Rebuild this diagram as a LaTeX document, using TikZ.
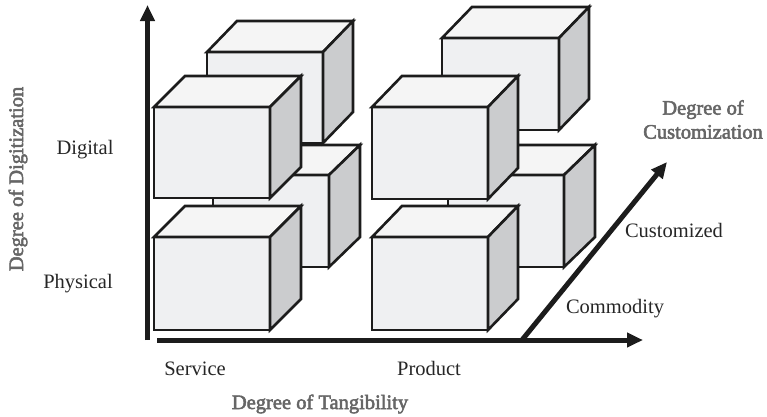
\documentclass[tikz,border=0pt]{standalone}
\usepackage{fontspec}
\setmainfont{Liberation Serif}
\newfontfamily\titlefont[FakeBold=2.6]{Liberation Serif}
\usetikzlibrary{arrows.meta}

\definecolor{faceFront}{HTML}{EFF0F2}
\definecolor{faceTop}{HTML}{F5F5F5}
\definecolor{faceSide}{HTML}{CBCCCE}
\definecolor{edgeInk}{HTML}{1C1C1C}
\definecolor{titleGray}{HTML}{666666}
\definecolor{labelInk}{HTML}{262626}

% a box seen from the front: front face (x1,y1)-(x2,y2), depth offset (dx,dy)
\newcommand{\drawbox}[6]{%
  \filldraw[boxedge, fill=faceFront] (#1,#2) rectangle (#3,#4);
  \filldraw[boxedge, fill=faceTop] (#1,#2) -- ({#1+#5},{#2-#6}) -- ({#3+#5},{#2-#6}) -- (#3,#2) -- cycle;
  \filldraw[boxedge, fill=faceSide] (#3,#2) -- ({#3+#5},{#2-#6}) -- ({#3+#5},{#4-#6}) -- (#3,#4) -- cycle;
}

\tikzset{
  boxedge/.style={draw=edgeInk, line width=2.6pt, line join=miter},
  axisline/.style={draw=edgeInk, line width=5pt, -{Triangle[length=16pt,width=14pt]}},
  tick/.style={font=\fontsize{20.5}{24}\selectfont, text=labelInk, inner sep=0pt, anchor=base},
  axistitle/.style={font=\titlefont\fontsize{20.5}{24}\selectfont, text=titleGray, inner sep=0pt},
}

\begin{document}
\begin{tikzpicture}[x=1pt, y=-1pt]
  \path[use as bounding box] (0,0) rectangle (767,416);

  % axes
  \coordinate (vBase) at (147.5,340);
  \coordinate (vTip) at (147.5,5);
  \coordinate (hBase) at (157,340);
  \coordinate (hTip) at (643,340);
  \coordinate (dBase) at (522,340);
  \coordinate (dTip) at (667,162);
  \draw[axisline] (vBase) -- (vTip);
  \draw[axisline] (hBase) -- (hTip);
  \draw[axisline] (dBase) -- (dTip);

  % service column, rear row
  \drawbox{213}{175}{329}{267}{31}{30}
  \drawbox{207}{52}{323}{143}{30}{31}
  % service column, front row
  \drawbox{154}{237}{270}{330}{31}{31}
  \drawbox{154}{107}{270}{198}{31}{31}

  % product column, rear row
  \drawbox{448}{175}{564}{267}{31}{30}
  \drawbox{442}{38}{559}{130}{30}{31}
  % product column, front row
  \drawbox{372}{237}{488}{330}{30}{31}
  \drawbox{372}{107}{488}{199}{30}{31}

  % level labels
  \node[tick] (digital) at (85,154) {Digital};
  \node[tick] (physical) at (78,288) {Physical};
  \node[tick] (service) at (195,375) {Service};
  \node[tick] (product) at (429,375) {Product};
  \node[tick] (commodity) at (615,313) {Commodity};
  \node[tick] (customized) at (674,237) {Customized};

  % axis titles
  \node[axistitle, anchor=base] (tangibility) at (320,409) {Degree of Tangibility};
  \node[axistitle, anchor=base, rotate=90] (digitization) at (23,179) {Degree of Digitization};
  \node[axistitle, anchor=south, align=center] (customization) at (703,139) {Degree of\\Customization};
\end{tikzpicture}
\end{document}
